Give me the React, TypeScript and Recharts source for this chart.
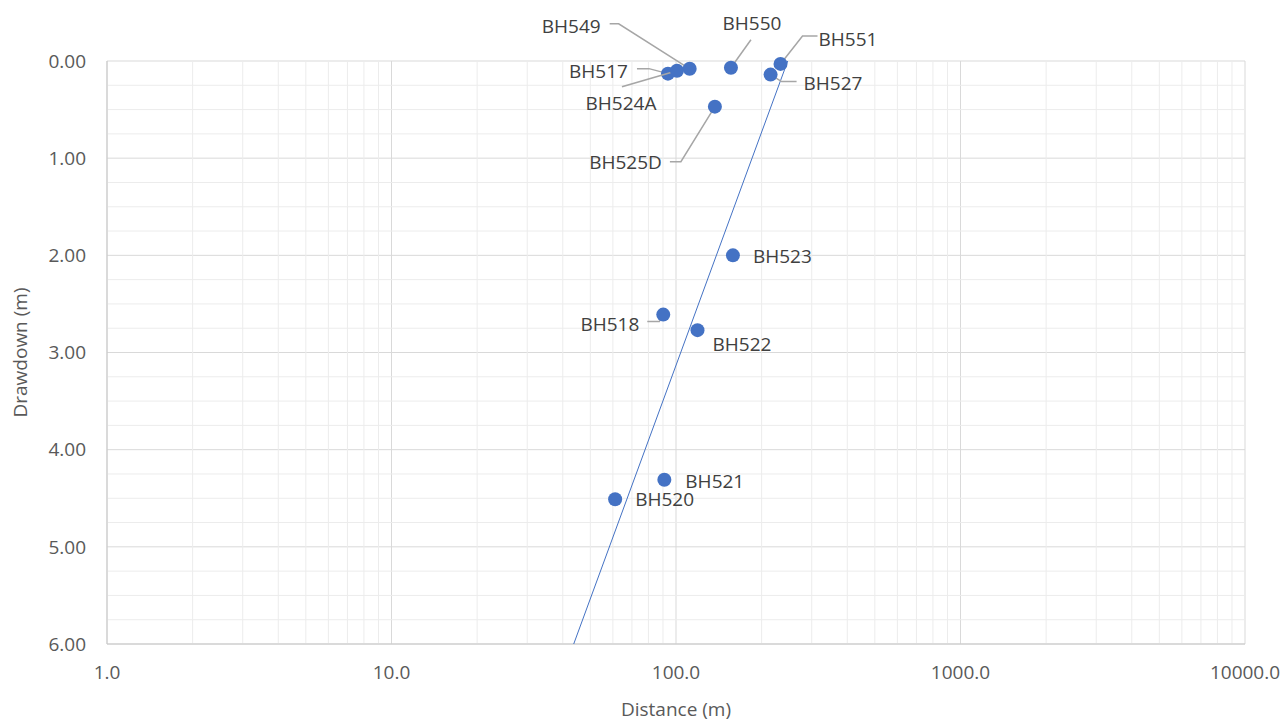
import React from "react";
import {
  ScatterChart,
  Scatter,
  XAxis,
  YAxis,
  CartesianGrid,
  ReferenceLine,
  Label,
} from "recharts";

// borehole drawdown vs distance
const boreholes = ["BH517", "BH524A", "BH549", "BH550", "BH551", "BH527", "BH525D", "BH523", "BH518", "BH522", "BH521", "BH520"];
const distances = [93.7, 100.8, 111.7, 156, 233, 215, 137, 158.5, 90.2, 119, 91, 61.1];
const drawdowns = [0.13, 0.1, 0.08, 0.07, 0.03, 0.14, 0.47, 2.0, 2.61, 2.77, 4.31, 4.51];

// log trendline, ends
const trendDistance = [43.7, 247];
const trendDrawdown = [6.0, 0.0];

const xTicks = [1, 10, 100, 1000, 10000];
const yTicks = [0, 1, 2, 3, 4, 5, 6];

const BLUE = "#4472C4";
const TEXT = "#595959";
const LABEL = "#404040";
const FONT = 19;

// minor grid: 2..9 of each decade, quarter steps on drawdown
const xMinor: number[] = [];
[1, 10, 100, 1000].forEach((d) => {
  for (let m = 2; m <= 9; m++) xMinor.push(d * m);
});
const yMinor: number[] = [];
for (let i = 0; i < 6; i++) {
  [0.25, 0.5, 0.75].forEach((f) => yMinor.push(i + f));
}

// label placement relative to each point (pixels), plus leader path
type LabelPos = { dx: number; dy: number; anchor: "start" | "middle" | "end"; leader?: number[][] };
const labelPos: Record<string, LabelPos> = {
  BH517: { dx: -40, dy: -3, anchor: "end", leader: [[-31, -5], [-19, -5], [0, 0]] },
  BH524A: { dx: -56, dy: 32, anchor: "middle", leader: [[-55, 16], [0, 0]] },
  BH549: { dx: -89, dy: -43, anchor: "end", leader: [[-80, -45], [-71, -45], [0, 0]] },
  BH550: { dx: 21, dy: -45, anchor: "middle", leader: [[20, -28], [0, 0]] },
  BH551: { dx: 38, dy: -25, anchor: "start", leader: [[37, -28], [22, -28], [0, 0]] },
  BH527: { dx: 33, dy: 8, anchor: "start", leader: [[26, 7], [11, 7], [0, 0]] },
  BH525D: { dx: -53, dy: 55, anchor: "end", leader: [[-45, 55], [-34, 55], [0, 0]] },
  BH523: { dx: 20, dy: 1, anchor: "start" },
  BH518: { dx: -24, dy: 9, anchor: "end", leader: [[-16, 7], [-4, 7], [0, 0]] },
  BH522: { dx: 15, dy: 14, anchor: "start" },
  BH521: { dx: 21, dy: 1, anchor: "start" },
  BH520: { dx: 20, dy: 0, anchor: "start" },
};

const points = boreholes.map((name, i) => ({ name, x: distances[i], y: drawdowns[i] }));
const trend = trendDistance.map((x, i) => ({ x, y: trendDrawdown[i] }));

function BoreholeDot(props: any) {
  const { cx, cy, payload } = props;
  const pos = labelPos[payload.name];
  return (
    <g>
      {pos.leader && (
        <polyline
          points={pos.leader.map(([lx, ly]) => `${cx + lx},${cy + ly}`).join(" ")}
          fill="none"
          stroke="#a6a6a6"
          strokeWidth={1.5}
        />
      )}
      <circle cx={cx} cy={cy} r={7} fill={BLUE} />
      <text
        x={cx + pos.dx}
        y={cy + pos.dy}
        textAnchor={pos.anchor}
        dominantBaseline="central"
        fontSize={FONT}
        fill={LABEL}
      >
        {payload.name}
      </text>
    </g>
  );
}

export default function App() {
  return (
    <div style={{ position: "absolute", left: 0, top: 0, fontFamily: "'Open Sans', sans-serif", background: "#fff" }}>
      <ScatterChart width={1285} height={722} margin={{ top: 61, right: 40, bottom: 0, left: 5 }}>
        <CartesianGrid stroke="#d9d9d9" />
        {xMinor.map((v) => (
          <ReferenceLine key={`x${v}`} x={v} stroke="#ececec" strokeWidth={1} />
        ))}
        {yMinor.map((v) => (
          <ReferenceLine key={`y${v}`} y={v} stroke="#ececec" strokeWidth={1} />
        ))}
        <XAxis
          type="number"
          dataKey="x"
          scale="log"
          domain={[1, 10000]}
          ticks={xTicks}
          tickFormatter={(v) => Number(v).toFixed(1)}
          tick={{ fill: TEXT, fontSize: FONT }}
          tickLine={false}
          tickSize={0}
          tickMargin={22}
          axisLine={{ stroke: "#c8c8c8" }}
          height={78}
        >
          <Label
            content={({ viewBox }: any) => (
              <text
                x={viewBox.x + viewBox.width / 2}
                y={709}
                textAnchor="middle"
                dominantBaseline="central"
                fontSize={FONT}
                fill={TEXT}
              >
                Distance (m)
              </text>
            )}
          />
        </XAxis>
        <YAxis
          type="number"
          dataKey="y"
          reversed
          domain={[0, 6]}
          ticks={yTicks}
          tickFormatter={(v) => Number(v).toFixed(2)}
          tick={{ fill: TEXT, fontSize: FONT }}
          tickLine={false}
          tickSize={0}
          tickMargin={21}
          axisLine={{ stroke: "#c8c8c8" }}
          width={102}
        >
          <Label
            content={({ viewBox }: any) => {
              const cy = viewBox.y + viewBox.height / 2;
              return (
                <text
                  x={20}
                  y={cy}
                  transform={`rotate(-90, 20, ${cy})`}
                  textAnchor="middle"
                  dominantBaseline="central"
                  fontSize={FONT}
                  fill={TEXT}
                >
                  Drawdown (m)
                </text>
              );
            }}
          />
        </YAxis>
        <Scatter
          data={trend}
          line={{ stroke: BLUE, strokeWidth: 1 }}
          shape={() => <g />}
          isAnimationActive={false}
        />
        <Scatter data={points} shape={BoreholeDot} isAnimationActive={false} />
      </ScatterChart>
    </div>
  );
}
